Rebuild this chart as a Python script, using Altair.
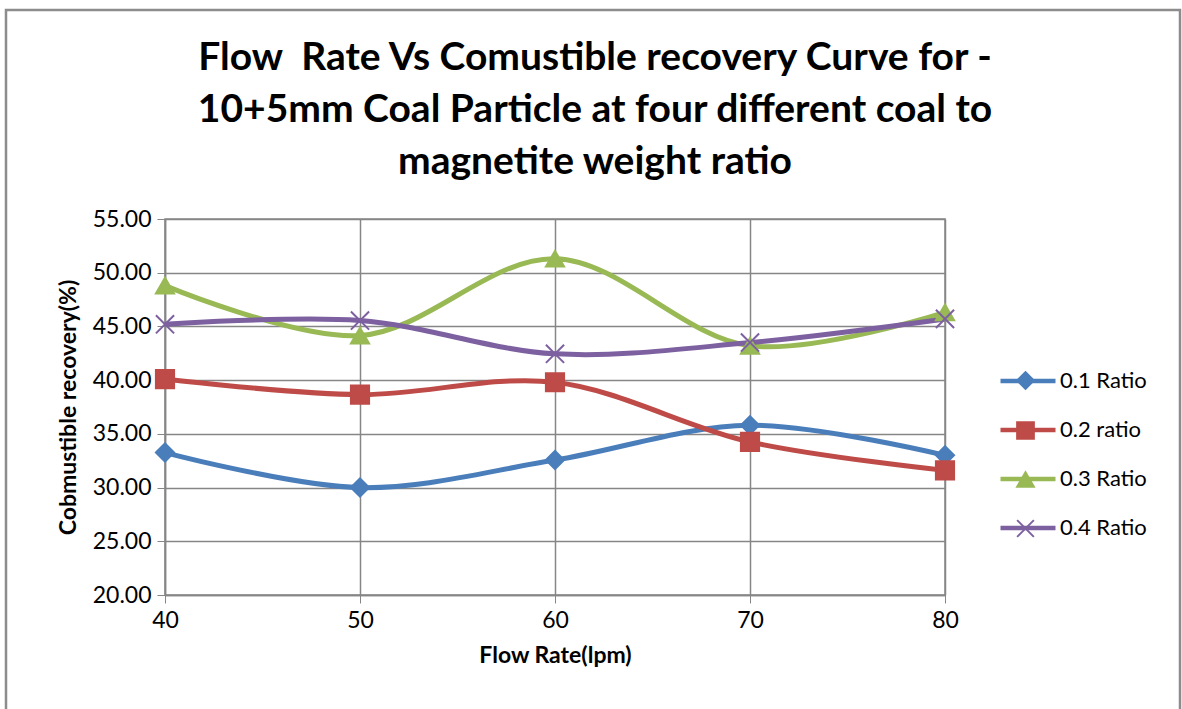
import altair as alt
import pandas as pd

flow_rate = [40, 50, 60, 70, 80]
series_names = ["0.1 Ratio", "0.2 ratio", "0.3 Ratio", "0.4 Ratio"]
r01 = [33.26, 30.00, 32.56, 35.80, 33.00]
r02 = [40.10, 38.65, 39.80, 34.25, 31.60]
r03 = [48.80, 44.15, 51.30, 43.20, 46.30]
r04 = [45.20, 45.55, 42.45, 43.50, 45.70]

colors = ["#4A7EBB", "#BE4B48", "#98B954", "#7D60A0"]
shapes = ["diamond", "square", "triangle-up", "M-1,-1L1,1M-1,1L1,-1"]

rows = []
for name, vals in zip(series_names, [r01, r02, r03, r04]):
    for x, v in zip(flow_rate, vals):
        rows.append({"Flow": x, "Recovery": v, "Series": name, "Marker": name})
df = pd.DataFrame(rows)

FONT = "Lato"

x_enc = alt.X("Flow:Q", scale=alt.Scale(domain=[40, 80], nice=False),
              axis=alt.Axis(values=flow_rate, title="Flow Rate(lpm)", format="d"))
y_enc = alt.Y("Recovery:Q", scale=alt.Scale(domain=[20, 55], nice=False),
              axis=alt.Axis(values=[20, 25, 30, 35, 40, 45, 50, 55], format=".2f",
                            title="Cobmustible recovery(%)"))

# legend with line symbols (labels shown)
line_legend = alt.Legend(title=None, orient="none", legendX=833, legendY=132,
                         labelFontSize=22, labelFont=FONT, symbolType="stroke",
                         symbolSize=3025, symbolStrokeWidth=4.5, labelOffset=2,
                         rowPadding=8, labelColor="#000000")
# legend with marker symbols overlaid on the lines (no labels)
marker_legend = alt.Legend(title=None, orient="none", legendX=851, legendY=152,
                           labelExpr="''", symbolSize=280,
                           symbolStrokeWidth=2, rowPadding=25)

# outer chart frame (decoration only)
frame = alt.Chart(pd.DataFrame({"k": [0]})).mark_rect(
    fill=None, stroke="#8C8C8C", strokeWidth=2.5).encode(
    x=alt.value(-159), x2=alt.value(1015), y=alt.value(-209), y2=alt.value(520))

lines = alt.Chart(df).mark_line(interpolate="catmull-rom", strokeWidth=5).encode(
    x=x_enc, y=y_enc,
    color=alt.Color("Series:N", scale=alt.Scale(domain=series_names, range=colors),
                    legend=line_legend),
    detail="Series:N")

marker_scale_c = alt.Scale(range=colors)
points = alt.Chart(df).mark_point(filled=True, size=330, opacity=1, strokeWidth=2).encode(
    x=x_enc, y=y_enc,
    fill=alt.Fill("Marker:N", scale=marker_scale_c, legend=marker_legend),
    stroke=alt.Stroke("Marker:N", scale=marker_scale_c, legend=marker_legend),
    shape=alt.Shape("Marker:N", scale=alt.Scale(range=shapes), legend=marker_legend))

chart = alt.layer(frame, lines, points).properties(
    width=780, height=376,
    autosize=alt.AutoSizeParams(type="none"),
    padding={"left": 165, "top": 219, "right": 237, "bottom": 114},
    title=alt.Title(
        ["Flow\u00a0 Rate Vs Comustible recovery Curve for -",
         "10+5mm Coal Particle at four different coal to",
         "magnetite weight ratio"],
        fontSize=39, font=FONT, fontWeight="bold", color="#000000",
        lineHeight=52, anchor="middle", dx=40, offset=-173),
).configure_view(stroke="#868686", strokeWidth=1.5).configure_axis(
    gridColor="#868686", gridWidth=1.5, domainColor="#868686", domainWidth=1.5,
    tickColor="#868686", tickSize=8, labelFont=FONT, labelFontSize=23, labelColor="#000000",
    labelFlush=False,
    titleFont=FONT, titleFontSize=23, titleFontWeight="bold", titleColor="#000000",
).configure_axisX(labelPadding=6, titlePadding=12).configure_axisY(labelPadding=6, titlePadding=12)

chart.save("out.html", embed_options={"renderer": "svg", "actions": False})
